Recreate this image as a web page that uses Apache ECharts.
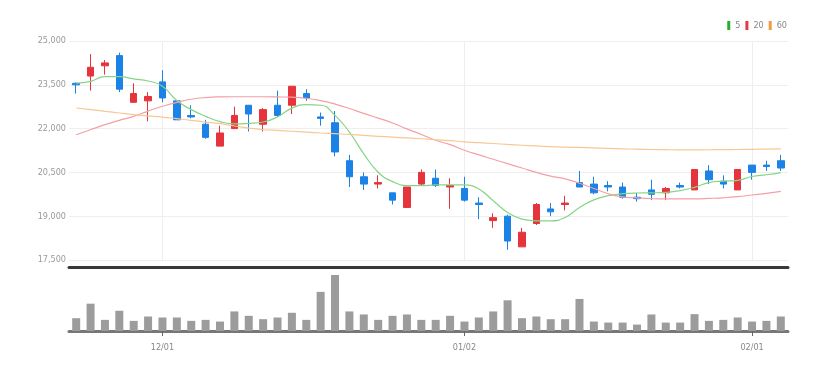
<!DOCTYPE html>
<html>
<head>
<meta charset="utf-8">
<script src="https://cdn.jsdelivr.net/npm/echarts@6/dist/echarts.min.js"></script>
<style>
html,body{margin:0;padding:0;background:#fff;}
#chart{width:835px;height:372px;}
</style>
</head>
<body>
<div id="chart"></div>
<script>
var dates = ['11/23','11/24','11/25','11/28','11/29','11/30','12/01','12/02','12/05','12/06',
  '12/07','12/08','12/09','12/12','12/13','12/14','12/15','12/16','12/19','12/20',
  '12/21','12/22','12/23','12/26','12/27','12/28','12/29','01/02','01/03','01/04',
  '01/05','01/06','01/09','01/10','01/11','01/12','01/13','01/16','01/17','01/18',
  '01/19','01/20','01/25','01/26','01/27','01/30','01/31','02/01','02/02','02/03'];
var tickLabels = ['12/01','01/02','02/01'];
var yTicks = [17500, 19000, 20500, 22000, 23500, 25000];
// [open, close, low, high]
var ohlc = [
  [23550,23500,23200,23580],[23800,24100,23300,24550],[24150,24250,23850,24350],[24500,23350,23250,24600],
  [22900,23200,22900,23550],[22950,23100,22250,23250],[23600,23050,22900,24000],[22950,22300,22300,22950],
  [22450,22400,22350,22800],[22150,21700,21650,22300],[21400,21850,21400,22100],[22000,22450,22000,22750],
  [22800,22500,21900,22800],[22150,22650,21900,22700],[22800,22450,22400,23300],[22800,23450,22500,23450],
  [23200,23050,22950,23350],[22400,22350,22100,22550],[22200,21200,21050,22600],[20900,20350,20000,21100],
  [20350,20100,19900,20500],[20100,20150,19950,20400],[19800,19550,19400,19800],[19300,20000,19300,20000],
  [20100,20500,20050,20600],[20300,20050,20000,20600],[20000,20050,19250,20300],[19950,19550,19500,20350],
  [19450,19400,18900,19650],[18850,18950,18600,19100],[19000,18150,17850,19050],[17950,18450,17950,18600],
  [18750,19400,18700,19450],[19250,19150,19000,19450],[19400,19450,19200,19700],[20150,20000,20000,20550],
  [20100,19800,19750,20350],[20050,20000,19850,20200],[20000,19650,19600,20150],[19650,19600,19500,19800],
  [19900,19750,19550,20250],[19800,19950,19550,20000],[20050,20000,19950,20150],[19900,20600,19900,20600],
  [20550,20250,20100,20750],[20200,20100,19950,20400],[19900,20600,19900,20600],[20750,20500,20250,20750],
  [20750,20700,20550,20900],[20900,20650,20550,21100]
];
var volume = [38,81,33,60,30,43,40,40,30,33,28,58,45,35,40,54,33,116,166,58,
  49,33,45,49,33,33,45,28,40,58,91,38,43,35,35,95,28,25,25,19,
  49,25,25,50,30,33,40,28,30,43];
var ma5 = [23560,23620,23780,23780,23700,23630,23450,22960,22650,22420,
  22240,22160,22180,22225,22400,22700,22820,22800,22454,21880,
  21137,20506,20184,20046,20046,20071,20071,20071,19933,19530,
  19128,18900,18842,18842,18956,19300,19560,19702,19770,19795,
  19800,19816,19874,19988,20150,20200,20230,20360,20420,20495];
var ma20 = [21790,21962,22134,22282,22420,22600,22764,22900,23005,23063,
  23085,23090,23090,23090,23085,23075,23040,22960,22840,22690,
  22520,22360,22190,21990,21800,21600,21450,21260,21100,20950,
  20800,20650,20500,20370,20280,20130,19950,19770,19660,19625,
  19600,19590,19590,19595,19610,19630,19668,19726,19782,19850];
var ma60 = [22706,22650,22592,22535,22478,22437,22396,22340,22282,22225,
  22168,22090,22018,21960,21938,21910,21880,21850,21825,21800,
  21766,21737,21708,21680,21653,21620,21590,21545,21520,21490,
  21457,21430,21405,21385,21365,21355,21340,21320,21308,21295,
  21285,21278,21273,21273,21275,21280,21285,21290,21300,21308];

var FONT = "'Liberation Sans Narrow','DejaVu Sans Condensed',sans-serif";
var showTick = function (idx, val) { return tickLabels.indexOf(val) >= 0; };

var chart = echarts.init(document.getElementById('chart'));
chart.setOption({
  animation: false,
  legend: {
    right: 48, top: 21, icon: 'rect', itemWidth: 3, itemHeight: 9, itemGap: 5, padding: 0,
    textStyle: {fontSize: 9, color: '#888', fontFamily: FONT},
    data: ['5', '20', '60']
  },
  grid: [
    {left: 69, right: 47, top: 41, height: 219},
    {left: 69, right: 47, top: 275, bottom: 41}
  ],
  xAxis: [
    {
      type: 'category', data: dates, gridIndex: 0, boundaryGap: true, offset: 7,
      axisLine: {lineStyle: {color: '#3a3a3a', width: 3}},
      axisTick: {show: false}, axisLabel: {show: false},
      splitLine: {show: true, interval: showTick, alignWithLabel: true, lineStyle: {color: '#eeeeee', width: 1}}
    },
    {
      type: 'category', data: dates, gridIndex: 1, boundaryGap: true,
      axisLine: {lineStyle: {color: '#777', width: 3}},
      axisTick: {show: true, interval: showTick, alignWithLabel: true, length: 5, lineStyle: {color: '#666'}},
      axisLabel: {interval: showTick, fontSize: 9, color: '#888', fontFamily: FONT, margin: 12},
      splitLine: {show: false}
    }
  ],
  yAxis: [
    {
      type: 'value', gridIndex: 0, min: yTicks[0], max: yTicks[yTicks.length - 1], interval: 1500,
      axisLine: {show: false}, axisTick: {show: false},
      axisLabel: {fontSize: 9, color: '#999', fontFamily: FONT, margin: 3},
      splitLine: {lineStyle: {color: '#eeeeee'}}
    },
    {
      type: 'value', gridIndex: 1, min: 0, max: 'dataMax', show: false,
      splitLine: {show: false}
    }
  ],
  series: [
    {
      type: 'candlestick', name: 'price', data: ohlc, xAxisIndex: 0, yAxisIndex: 0, barWidth: 7,
      itemStyle: {color: '#e5343b', color0: '#1b82e6', borderColor: '#e5343b', borderColor0: '#1b82e6', borderWidth: 1}
    },
    {
      type: 'line', name: '5', data: ma5, smooth: true, showSymbol: false,
      itemStyle: {color: '#22b02a'}, lineStyle: {color: '#86d586', width: 1.2}
    },
    {
      type: 'line', name: '20', data: ma20, smooth: true, showSymbol: false,
      itemStyle: {color: '#e8383d'}, lineStyle: {color: '#f3a0a6', width: 1.2}
    },
    {
      type: 'line', name: '60', data: ma60, smooth: true, showSymbol: false,
      itemStyle: {color: '#f39a3c'}, lineStyle: {color: '#f8c796', width: 1.2}
    },
    {
      type: 'bar', name: 'volume', data: volume, xAxisIndex: 1, yAxisIndex: 1, barWidth: 8,
      itemStyle: {color: '#9c9c9c'}
    }
  ]
});
</script>
</body>
</html>
